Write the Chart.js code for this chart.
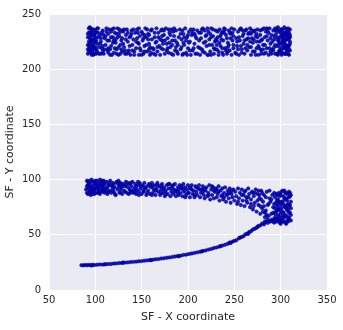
<!DOCTYPE html>
<html>
<head>
<meta charset="UTF-8">
<title>SF coordinates</title>
<script src="https://cdn.jsdelivr.net/npm/chart.js@4/dist/chart.umd.min.js"></script>
<style>
  html, body { margin: 0; padding: 0; background: #fff; }
  #wrap { width: 343px; height: 330px; }
</style>
</head>
<body>
<div id="wrap"><canvas id="c" width="343" height="330"></canvas></div>
<script>
// upper block of points
const topPts = [
  [93,237],[94,233],[92,229],[95,225],[93,221],[94,217],[92,214],[96,213],[97,236],[96,231],[98,227],[97,222],[99,218],[95,215],[100,235],[99,230],[101,226],[100,220],[102,216],[98,213],[93,225],[94,238],[96,219],[101,233],[103,229],[102,223],[104,214],[103,237],[92,218],[97,233],
  [105,231],[106,225],[107,219],[108,235],[109,214],[110,228],[111,222],[112,237],[113,217],[114,232],[115,226],[116,213],[117,221],[118,236],[119,229],[120,215],[121,233],[122,224],[123,218],[124,237],[125,213],[126,230],[127,222],[128,226],[129,216],[130,234],[106,214],[108,221],[111,230],[114,219],[117,234],[120,226],[123,214],[126,236],[129,228],
  [131,220],[132,214],[133,231],[134,236],[135,225],[136,217],[137,229],[138,213],[139,235],[140,222],[141,227],[142,216],[143,233],[144,219],[145,236],[146,224],[147,213],[148,230],[149,217],[150,234],[151,226],[152,214],[153,221],[154,237],[155,229],[156,216],[157,232],[158,223],[159,213],[160,235],[134,214],[141,236],[147,223],[153,231],[158,218],
  [161,227],[162,219],[163,214],[164,233],[165,224],[166,237],[167,216],[168,229],[169,221],[170,213],[171,235],[172,226],[173,218],[174,231],[175,214],[176,237],[177,223],[178,228],[179,215],[180,233],[181,220],[182,236],[183,226],[184,213],[185,230],[186,217],[187,235],[188,224],[189,214],[190,229],[165,213],[172,236],[178,219],[184,234],[189,222],
  [191,236],[192,218],[193,227],[194,213],[195,232],[196,222],[197,237],[198,215],[199,229],[200,219],[201,234],[202,225],[203,213],[204,231],[205,217],[206,236],[207,223],[208,214],[209,228],[210,235],[211,220],[212,226],[213,213],[214,233],[215,218],[216,237],[217,224],[218,215],[219,230],[220,221],[195,214],[201,224],[207,232],[213,219],[218,235],
  [221,213],[222,234],[223,227],[224,216],[225,237],[226,222],[227,230],[228,214],[229,225],[230,235],[231,218],[232,229],[233,213],[234,236],[235,221],[236,232],[237,215],[238,226],[239,237],[240,219],[241,231],[242,214],[243,224],[244,235],[245,217],[246,228],[247,213],[248,233],[249,222],[250,236],[225,213],[231,226],[237,234],[243,216],[249,230],
  [251,215],[252,228],[253,221],[254,234],[255,213],[256,226],[257,237],[258,218],[259,230],[260,223],[261,214],[262,235],[263,227],[264,217],[265,232],[266,220],[267,237],[268,213],[269,228],[270,224],[271,234],[272,216],[273,230],[274,219],[275,236],[276,213],[277,225],[278,231],[279,217],[280,236],[281,222],[282,214],[283,229],[284,234],[285,219],[286,226],[287,213],[288,237],[289,223],[290,231],[256,236],[262,219],[268,232],[274,225],[279,214],[285,237],[289,216],
  [291,218],[292,235],[293,227],[294,214],[295,232],[296,221],[297,238],[298,216],[299,229],[300,224],[301,213],[302,236],[303,219],[304,231],[305,226],[306,214],[307,234],[308,221],[309,228],[310,217],[294,237],[296,229],[298,223],[300,236],[302,215],[304,238],[306,227],[308,232],[309,213],[310,236],[305,219],[303,225],[301,231],[299,217],[297,213],[307,216],[293,220],[308,237],[306,222],[310,225],[304,214],[302,229],[300,215],[298,234],[296,214],
  [152,228],[118,213],[267,225],[203,236],[99,224],[284,215],[171,219],[236,227],[129,235],[305,233],[188,216],[247,237],[113,226],[260,232],[142,213],[219,225],[96,235],[293,230],[164,229],[231,222],[107,233],[277,219],[195,224],[252,214],[137,221],[299,220],[181,231],[224,232],[121,219],[263,236],[156,236],[210,214],[101,214],[287,233],[173,223],[242,228],[133,227],[306,218],[199,213],[257,221],[115,236],[270,216],[148,219],[228,219],[94,228],[291,225],[185,237],[239,233],[124,229],[275,229],
  [160,215],[214,228],[104,220],[282,237],[168,233],[249,219],[139,232],[302,226],[192,232],[233,216],[110,218],[265,228],[145,228],[222,213],[98,221],[296,236],[177,217],[244,222],[127,214],[272,235],[155,222],[208,230],[103,233],[288,219],[166,225],[237,219],[131,236],[309,221],[196,229],[255,229],[119,224],[280,227],[150,213],[227,236],[95,218],[297,226],[183,222],[246,232],[125,220],[268,220],[161,236],[216,216],[106,228],[285,230],[174,235],[234,224],[136,215],[304,221],[202,217],[259,235],
  [112,234],[273,213],[144,225],[221,237],[97,216],[294,222],[186,226],[241,217],[130,223],[278,235],[158,231],[206,219],[102,237],[290,214],[170,227],[248,226],[140,217],[307,230],[193,220],[254,218],[117,229],[283,222],[151,232],[225,229],[93,233],[300,233],[179,236],[238,213],[123,232],[266,233],[163,218],[212,233],[108,216],[281,218],[172,230],[232,234],[135,233],[303,228],[198,226],[261,226],[114,215],[271,227],[147,237],[229,218],[100,229],[292,217],[187,220],[245,233],[128,218],[274,232],
  [157,227],[205,233],[105,223],[286,236],[167,220],[235,230],[132,217],[310,231],[194,235],[253,225],[120,237],[279,226],[153,216],[220,231],[96,226],[298,227],[180,224],[243,220],[126,233],[264,222],[159,220],[215,236],[109,231],[289,228],[175,226],[230,227],[138,230],[301,218],[200,231],[258,215],[116,218],[276,221],[146,233],[223,222],[92,222],[295,235],[182,214],[240,236],[122,227],[269,235],
  [95,230],[93,216],[98,236],[97,219],[94,223],[99,232],[96,227],[101,218],[95,237],[100,225],[308,227],[309,233],[307,219],[310,223],[306,236],[305,214],[304,224],[303,233],[309,218],[308,214],[302,222],[301,236],[307,228],[306,231],[310,229],[92,232],[94,219],[97,226],[99,214],[98,231]
];

// middle band, including the wedge and the right block
const bandPts = [
  [91,99],[92,95],[90,91],[93,88],[94,97],[95,93],[92,87],[96,100],[97,90],[98,95],[95,86],[99,98],[100,92],[101,88],[100,96],[102,99],[103,91],[104,94],[105,87],[106,97],[107,90],[108,93],[109,99],[110,88],[93,92],[97,98],[101,95],[105,100],[108,89],[94,90],[99,87],[103,97],[107,95],[110,96],[96,89],
  [111,92],[112,98],[113,87],[114,95],[115,90],[116,99],[117,88],[118,94],[119,97],[120,89],[121,93],[122,86],[123,98],[124,91],[125,95],[126,88],[127,97],[128,92],[129,87],[130,96],[131,90],[132,94],[133,98],[134,88],[135,93],[136,87],[137,96],[138,90],[139,94],[140,98],[141,88],[142,92],[143,96],[144,87],[145,91],[146,95],[147,89],[148,97],[149,92],[150,87],[114,89],[120,96],[126,93],[132,89],[138,97],[144,94],
  [151,95],[152,89],[153,97],[154,92],[155,86],[156,94],[157,90],[158,96],[159,87],[160,93],[161,97],[162,88],[163,91],[164,95],[165,86],[166,92],[167,97],[168,89],[169,94],[170,86],[171,91],[172,96],[173,88],[174,93],[175,85],[176,90],[177,95],[178,87],[179,92],[180,96],[181,85],[182,89],[183,94],[184,87],[185,91],[186,96],[187,85],[188,90],[189,93],[190,86],[191,95],[192,88],[193,92],[194,85],[195,96],[196,89],[197,93],[198,86],[199,91],[200,95],
  [201,88],[202,84],[203,92],[204,95],[205,87],[206,90],[207,84],[208,94],[209,89],[210,86],[211,92],[212,95],[213,84],[214,88],[215,91],[216,94],[217,86],[218,83],[219,90],[220,93],[221,85],[222,88],[223,95],[224,82],[225,91],[226,86],[227,93],[228,83],[229,89],[230,92],[231,84],[232,87],[233,94],[234,81],[235,90],[236,85],[237,92],[238,82],[239,88],[240,93],[241,80],[242,86],[243,90],[244,83],[245,92],[246,79],[247,87],[248,84],[249,91],[250,81],
  [251,89],[252,85],[253,78],[254,92],[255,83],[256,88],[257,77],[258,91],[259,81],[260,86],[261,76],[262,90],[263,84],[264,79],[265,92],[266,87],[267,75],[268,82],[269,89],[270,73],[271,85],[272,79],[273,91],[274,71],[275,87],[276,77],[277,83],[278,69],[279,90],[280,74],[281,80],[282,86],[283,66],[284,72],[285,89],[286,64],[287,78],[288,83],[289,62],[290,69],[291,86],[292,75],[270,88],[276,90],[282,76],[288,90],[285,68],[279,82],
  [293,61],[294,66],[295,71],[296,77],[297,82],[298,88],[299,63],[300,69],[301,74],[302,80],[303,85],[304,90],[305,61],[306,67],[307,72],[308,78],[309,84],[310,88],[294,84],[296,62],[298,73],[300,86],[302,64],[304,76],[306,83],[308,62],[310,70],[311,80],[293,78],[295,87],[297,68],[299,79],[301,89],[303,70],[305,75],[307,87],[309,65],[311,63],[292,70],[296,72],[300,60],[304,66],[308,73],[310,85],[302,90],[306,60],[298,80],[294,74],[307,81],[303,62],[309,76],[301,66],[305,88],[297,86],[311,74],
  [92,98],[95,89],[98,92],[91,94],[94,99],[97,87],[100,99],[103,88],[106,92],[109,95],[93,96],[96,94],[99,90],[102,93],[105,96],[108,98],[91,88],[104,89],[107,99],[110,91],
  [135,97],[118,90],[162,94],[147,86],[124,97],[189,88],[171,94],[113,93],[204,91],[156,88],[129,94],[216,89],[182,92],[141,90],[197,84],[121,87],[228,90],[165,90],[153,93],[237,86],[116,95],[209,93],[176,87],[138,88],[245,88],[193,94],[127,89],[222,86],[159,95],[186,89],
  [146,98],[231,91],[171,88],[112,90],[200,88],[133,95],[239,84],[167,95],[119,92],[213,91],[152,90],[179,96],[143,89],[226,94],[195,91],[125,99],[233,89],[161,86],[207,86],[137,91],[243,87],[174,91],[115,97],[218,92],[184,95],[149,94],[247,90],[128,96],[202,93],[190,91],
  [258,86],[265,84],[272,88],[254,80],[261,89],[268,78],[277,86],[263,81],[284,84],[271,76],[280,88],[289,80],[275,81],[286,77],[291,64],[287,67],[283,70],[290,82],[278,76],[281,71],
  [295,64],[297,75],[299,85],[301,62],[303,78],[305,68],[307,63],[309,70],[311,86],[294,69],[296,81],[298,66],[300,77],[302,71],[304,83],[306,74],[308,66],[310,77],[293,88],[297,64],[301,80],[305,82],[309,89],[299,72],[303,67],[307,77],[311,68],[295,79],[299,61],[306,88]
];

// lower curved tail
const tailPts = [
  [85,22.5],[87,22.3],[89,22.6],[91,22.4],[93,22.7],[95,22.5],[97,22.8],[99,22.6],[102,22.9],[105,23.1],[108,23.0],[111,23.4],[114,23.5],[117,23.6],[120,24.0],[123,24.1],[126,24.4],[129,24.5],[132,24.8],[135,25.0],[138,25.3],[141,25.5],[144,25.7],[147,26.0],[150,26.2],[153,26.6],[156,26.8],[159,27.2],[162,27.4],[165,27.8],[168,28.0],[171,28.5],[174,28.7],[177,29.2],[180,29.5],[183,30.0],[186,30.3],[189,30.8],[192,31.1],[195,31.8],[198,32.0],[201,32.6],[204,33.0],[207,33.6],[210,34.1],[213,34.6],[216,35.3],[219,35.8],[222,36.6],[225,37.2],[228,38.0],[231,38.6],[234,39.3],[237,40.2],[240,41.0],[243,41.9],[246,42.6],[248,43.8],[250,44.5],[252,45.0],[255,46.8],[258,48.0],[260,48.8],[262,50.5],[264,51.0],[266,52.5],[268,53.2],[270,54.8],[272,55.5],[274,56.4],[276,58.0],[278,58.5],[280,60.2],[282,59.4],[284,61.5],[286,60.8],[288,62.4],[290,63.0],[292,62.1],[294,63.5],[296,64.2],[298,63.8],
  [96,22.2],[110,23.2],[130,24.9],[160,27.0],[190,30.5],[215,35.0],[235,39.8],[245,43.0],[256,47.5],[265,50.9],[275,57.2],[283,62.0]
];

const xTicks = [50, 100, 150, 200, 250, 300, 350];
const yTicks = [0, 50, 100, 150, 200, 250];

const toXY = p => ({ x: p[0], y: p[1] });
const allPts = topPts.concat(bandPts, tailPts).map(toXY);

const plotBg = {
  id: 'plotBg',
  beforeDraw(chart) {
    const a = chart.chartArea, ctx = chart.ctx;
    ctx.save();
    ctx.fillStyle = '#EAEAF2';
    ctx.fillRect(a.left, a.top, a.right - a.left, a.bottom - a.top);
    ctx.restore();
  }
};

const font = { family: 'DejaVu Sans', size: 10 };
const txt = '#262626';

new Chart(document.getElementById('c'), {
  type: 'scatter',
  data: {
    datasets: [{
      data: allPts,
      pointRadius: 1.7,
      pointHoverRadius: 1.7,
      backgroundColor: 'rgba(0,0,225,0.9)',
      borderColor: 'rgba(0,0,90,0.9)',
      borderWidth: 0.6
    }]
  },
  options: {
    responsive: false,
    animation: false,
    events: [],
    layout: { padding: { top: 12, right: 16, left: 0, bottom: 0 } },
    plugins: { legend: { display: false }, tooltip: { enabled: false } },
    scales: {
      x: {
        min: 50, max: 350,
        afterBuildTicks: s => { s.ticks = xTicks.map(v => ({ value: v })); },
        afterFit: s => { s.height = 40; },
        grid: { color: '#ffffff', lineWidth: 1, drawTicks: false },
        border: { display: false },
        ticks: { color: txt, font: font, padding: 4, maxRotation: 0 },
        title: { display: true, text: 'SF - X coordinate', color: txt, font: { family: 'DejaVu Sans', size: 11 }, padding: { top: 2, bottom: 6 } }
      },
      y: {
        min: 0, max: 250,
        afterBuildTicks: s => { s.ticks = yTicks.map(v => ({ value: v })); },
        afterFit: s => { s.width = 49; },
        grid: { color: '#ffffff', lineWidth: 1, drawTicks: false },
        border: { display: false },
        ticks: { color: txt, font: font, padding: 8 },
        title: { display: true, text: 'SF - Y coordinate', color: txt, font: { family: 'DejaVu Sans', size: 11 }, padding: { top: 4, bottom: 4 } }
      }
    }
  },
  plugins: [plotBg]
});
</script>
</body>
</html>
